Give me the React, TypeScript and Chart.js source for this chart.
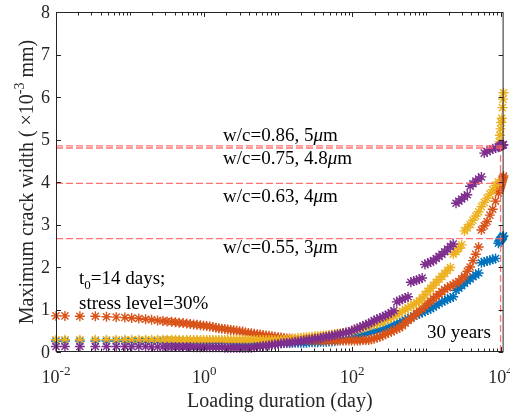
import React, { useEffect, useRef } from "react";
import { Chart, registerables } from "chart.js";

Chart.register(...registerables);

// ---------------- data ----------------
const days = [
  0.01, 0.0132, 0.021, 0.034, 0.048, 0.065, 0.085, 0.105, 0.131, 0.162,
  0.195, 0.235, 0.277, 0.316, 0.363, 0.41, 0.46, 0.52, 0.58, 0.65,
  0.72, 0.8, 0.89, 0.98, 1.08, 1.19, 1.31, 1.44, 1.58, 1.73,
  1.9, 2.08, 2.28, 2.5, 2.74, 3.0, 3.3, 3.6, 3.95, 4.33,
  4.75, 5.2, 5.7, 6.25, 6.85, 7.5, 8.2, 9.0,
  10, 10.9, 11.9, 13, 14.2, 15.5, 16.9, 18.5, 20.2, 22,
  24, 26.2, 28.6, 31.3, 34.1, 37.3, 40.7, 44.4, 48.5, 52.9,
  57.8, 63.1, 68.8, 75.2, 82, 89.6, 97.8, 107, 117, 127,
  139, 152, 166, 181, 197, 215, 235, 257, 280, 306,
  334, 364, 398, 434, 474, 517, 565, 616, 673, 734,
  802, 875, 955, 1043, 1138, 1243, 1357, 1481, 1617, 1765,
  1927, 2104, 2297, 2507, 2737, 2988, 3262, 3561, 3888, 4244,
  4634, 5058, 5522, 6029, 6581, 7185, 7843, 8563, 9348,
  9600, 9800, 10000, 10205, 10400, 10600, 10800, 10950,
];

const blueWidth = [
  0.26, 0.26, 0.26, 0.26, 0.26, 0.26, 0.26, 0.26, 0.26, 0.26,
  0.26, 0.26, 0.26, 0.26, 0.26, 0.26, 0.26, 0.26, 0.26, 0.26,
  0.25, 0.25, 0.25, 0.25, 0.25, 0.25, 0.25, 0.25, 0.25, 0.25,
  0.24, 0.24, 0.23, 0.23, 0.23, 0.22, 0.22, 0.22, 0.21, 0.21,
  0.21, 0.21, 0.21, 0.21, 0.21, 0.21, 0.21, 0.21,
  0.21, 0.21, 0.21, 0.21, 0.21, 0.22, 0.22, 0.22, 0.22, 0.22,
  0.22, 0.23, 0.23, 0.23, 0.23, 0.24, 0.24, 0.24, 0.25, 0.25,
  0.26, 0.27, 0.28, 0.29, 0.3, 0.31, 0.33, 0.35, 0.37, 0.39,
  0.41, 0.43, 0.45, 0.47, 0.48, 0.5, 0.52, 0.54, 0.56, 0.58,
  0.61, 0.64, 0.67, 0.7, 0.72, 0.75, 0.78, 0.81, 0.84, 0.87,
  0.9, 0.93, 0.96, 0.99, 1.02, 1.06, 1.1, 1.14, 1.18, 1.21,
  1.24, 1.27, 1.3, 1.45, 1.5, 1.56, 1.62, 1.67, 1.72, 1.77,
  1.81, 1.86, 2.1, 2.12, 2.14, 2.16, 2.18, 2.2, 2.56,
  2.6, 2.62, 2.64, 2.66, 2.68, 2.7, 2.72, 2.73,
];

const orangeWidth = [
  0.85, 0.85, 0.84, 0.84, 0.83, 0.82, 0.81, 0.8, 0.79, 0.77,
  0.76, 0.74, 0.73, 0.72, 0.71, 0.7, 0.69, 0.68, 0.67, 0.66,
  0.65, 0.64, 0.63, 0.62, 0.61, 0.6, 0.59, 0.57, 0.56, 0.55,
  0.54, 0.53, 0.52, 0.51, 0.5, 0.49, 0.48, 0.46, 0.45, 0.44,
  0.43, 0.42, 0.41, 0.4, 0.39, 0.38, 0.37, 0.36,
  0.35, 0.34, 0.33, 0.32, 0.32, 0.31, 0.3, 0.29, 0.29, 0.28,
  0.28, 0.28, 0.27, 0.27, 0.27, 0.27, 0.27, 0.27, 0.27, 0.27,
  0.27, 0.27, 0.27, 0.27, 0.27, 0.27, 0.27, 0.27, 0.27, 0.27,
  0.28, 0.28, 0.28, 0.3, 0.31, 0.34, 0.36, 0.39, 0.42, 0.45,
  0.48, 0.51, 0.54, 0.57, 0.62, 0.68, 0.74, 0.79, 0.84, 0.91,
  0.97, 1.02, 1.08, 1.14, 1.2, 1.25, 1.31, 1.36, 1.42, 1.47,
  1.51, 1.55, 1.58, 1.62, 1.66, 1.72, 1.79, 1.9, 2.0, 2.15,
  2.3, 2.47, 2.87, 2.97, 3.07, 3.22, 3.36, 3.55, 3.74,
  3.8, 3.85, 3.9, 3.95, 4.0, 4.05, 4.1, 4.14,
];

const yellowWidth = [
  0.29, 0.29, 0.29, 0.29, 0.29, 0.29, 0.29, 0.29, 0.29, 0.29,
  0.29, 0.29, 0.29, 0.29, 0.29, 0.29, 0.28, 0.28, 0.28, 0.28,
  0.28, 0.28, 0.28, 0.28, 0.28, 0.28, 0.28, 0.28, 0.28, 0.28,
  0.28, 0.28, 0.28, 0.28, 0.28, 0.28, 0.28, 0.28, 0.28, 0.28,
  0.28, 0.28, 0.28, 0.28, 0.28, 0.28, 0.28, 0.28,
  0.28, 0.28, 0.29, 0.29, 0.3, 0.31, 0.32, 0.33, 0.33, 0.34,
  0.35, 0.35, 0.36, 0.37, 0.37, 0.38, 0.39, 0.39, 0.4, 0.41,
  0.42, 0.43, 0.44, 0.45, 0.46, 0.47, 0.49, 0.51, 0.53, 0.55,
  0.57, 0.59, 0.61, 0.63, 0.65, 0.67, 0.69, 0.72, 0.75, 0.78,
  0.81, 0.84, 0.88, 0.92, 0.96, 1.0, 1.04, 1.08, 1.12, 1.16,
  1.2, 1.27, 1.35, 1.43, 1.5, 1.57, 1.64, 1.71, 1.78, 1.85,
  1.92, 1.99, 2.3, 2.36, 2.44, 2.52, 2.85, 2.92, 3.0, 3.1,
  3.2, 3.3, 3.42, 3.52, 3.62, 3.72, 3.82, 3.92, 4.0,
  4.95, 5.1, 5.25, 5.4, 5.5, 5.75, 5.95, 6.1,
];

const purpleWidth = [
  0.13, 0.13, 0.13, 0.13, 0.13, 0.13, 0.13, 0.13, 0.13, 0.13,
  0.12, 0.12, 0.12, 0.12, 0.12, 0.12, 0.12, 0.12, 0.12, 0.12,
  0.11, 0.11, 0.11, 0.11, 0.11, 0.11, 0.11, 0.11, 0.11, 0.11,
  0.1, 0.1, 0.1, 0.1, 0.1, 0.1, 0.1, 0.1, 0.1, 0.1,
  0.11, 0.12, 0.13, 0.14, 0.15, 0.16, 0.17, 0.18,
  0.19, 0.2, 0.21, 0.22, 0.22, 0.23, 0.24, 0.25, 0.26, 0.27,
  0.28, 0.29, 0.3, 0.31, 0.32, 0.33, 0.35, 0.36, 0.37, 0.38,
  0.4, 0.41, 0.42, 0.44, 0.46, 0.47, 0.5, 0.53, 0.55, 0.58,
  0.61, 0.64, 0.67, 0.7, 0.74, 0.77, 0.8, 0.83, 0.86, 0.89,
  0.93, 0.97, 1.18, 1.21, 1.24, 1.27, 1.3, 1.64, 1.67, 1.69,
  1.71, 1.74, 2.06, 2.09, 2.12, 2.15, 2.2, 2.25, 2.3, 2.36,
  2.42, 2.48, 2.54, 3.5, 3.55, 3.6, 3.65, 3.7, 3.9, 3.96,
  4.02, 4.07, 4.12, 4.68, 4.72, 4.75, 4.78, 4.8, 4.82,
  4.83, 4.84, 4.85, 4.86, 4.86, 4.87, 4.87, 4.88,
];

const limitLevels = [4.85, 4.8, 3.97, 2.67];
const limitLabels = ["w/c=0.86, 5", "w/c=0.75, 4.8", "w/c=0.63, 4", "w/c=0.55, 3"];
const serviceLifeDay = 10000;
const xTickExps = ["-2", "0", "2", "4"];
const yTickLabels = ["0", "1", "2", "3", "4", "5", "6", "7", "8"];

// ---------------- style ----------------
const FONT = "'Liberation Serif', 'Times New Roman', serif";
const AXIS = "#262626";
const RED = "rgba(255,100,100,0.9)";
const X_MIN = 0.01;
const X_MAX = 11000;

type Part = { t: string; size: number; italic?: boolean; dy?: number };

function drawRich(ctx: CanvasRenderingContext2D, parts: Part[], x: number, y: number, align: "left" | "center") {
  const font = (p: Part) => `${p.italic ? "italic " : ""}${p.size}px ${FONT}`;
  let total = 0;
  const widths = parts.map((p) => {
    ctx.font = font(p);
    const w = ctx.measureText(p.t).width;
    total += w;
    return w;
  });
  let cx = align === "center" ? x - total / 2 : x;
  ctx.textAlign = "left";
  ctx.textBaseline = "alphabetic";
  parts.forEach((p, i) => {
    ctx.font = font(p);
    ctx.fillText(p.t, cx, y + (p.dy || 0));
    cx += widths[i];
  });
}

const decor = {
  id: "decor",
  afterDraw(chart: any) {
    const { ctx, chartArea: a, scales } = chart;
    const xs = scales.x;
    const ys = scales.y;
    ctx.save();

    // box
    ctx.strokeStyle = AXIS;
    ctx.lineWidth = 1;
    const L = a.left + 0.5;
    const R = a.right - 0.5;
    const T = a.top + 0.5;
    const B = a.bottom - 0.5;
    ctx.strokeRect(L, T, R - L, B - T);

    // ticks
    ctx.beginPath();
    yTickLabels.forEach((s) => {
      const p = Math.round(ys.getPixelForValue(Number(s))) + 0.5;
      ctx.moveTo(L, p);
      ctx.lineTo(L + 4.5, p);
      ctx.moveTo(R, p);
      ctx.lineTo(R - 4.5, p);
    });
    for (let k = -2; k <= 4; k++) {
      for (let m = 1; m <= 9; m++) {
        const v = m * Math.pow(10, k);
        if (v > X_MAX) break;
        const major = m === 1 && xTickExps.includes(String(k));
        const len = major ? 4.5 : 3;
        const p = Math.round(xs.getPixelForValue(v)) + 0.5;
        ctx.moveTo(p, B);
        ctx.lineTo(p, B - len);
        ctx.moveTo(p, T);
        ctx.lineTo(p, T + len);
      }
    }
    ctx.stroke();

    ctx.fillStyle = AXIS;
    // y tick labels
    ctx.font = `18px ${FONT}`;
    ctx.textAlign = "right";
    ctx.textBaseline = "middle";
    yTickLabels.forEach((s) => {
      ctx.fillText(s, a.left - 6, ys.getPixelForValue(Number(s)) + 1);
    });
    // x tick labels
    xTickExps.forEach((e) => {
      const p = xs.getPixelForValue(Math.pow(10, Number(e)));
      drawRich(ctx, [
        { t: "10", size: 18 },
        { t: e, size: 13, dy: -8 },
      ], p, a.bottom + 31, "center");
    });

    // axis titles
    drawRich(ctx, [{ t: "Loading duration (day)", size: 20 }], (a.left + a.right) / 2, 406.5, "center");
    ctx.save();
    ctx.translate(33, (a.top + a.bottom) / 2);
    ctx.rotate(-Math.PI / 2);
    drawRich(ctx, [
      { t: "Maximum crack width ( \u00d710", size: 20 },
      { t: "-3", size: 14, dy: -9 },
      { t: " mm)", size: 20 },
    ], 0, 0, "center");
    ctx.restore();

    // annotations
    ctx.fillStyle = "#000";
    const labelBase = [141, 163.5, 201.5, 253];
    limitLabels.forEach((s, i) => {
      drawRich(ctx, [
        { t: s, size: 19 },
        { t: "\u03bc", size: 19, italic: true },
        { t: "m", size: 19 },
      ], 223, labelBase[i], "left");
    });
    drawRich(ctx, [
      { t: "t", size: 19 },
      { t: "0", size: 13, dy: 5 },
      { t: "=14 days;", size: 19 },
    ], 79, 284, "left");
    drawRich(ctx, [{ t: "stress level=30%", size: 19 }], 79, 308.5, "left");
    drawRich(ctx, [{ t: "30 years", size: 19 }], 427, 338, "left");

    ctx.restore();
  },
};

const seriesStyle = (color: string) => ({
  type: "scatter" as const,
  pointStyle: "star" as const,
  pointRadius: 5,
  pointHoverRadius: 5,
  borderWidth: 1.4,
  borderColor: color,
  backgroundColor: color,
  showLine: false,
  clip: false as any,
});

export default function App() {
  const ref = useRef<HTMLCanvasElement>(null);

  useEffect(() => {
    if (!ref.current) return;
    const toPoints = (vals: number[]) => days.map((d, i) => ({ x: d, y: vals[i] }));
    const dashed = (pts: { x: number; y: number }[]) => ({
      type: "line" as const,
      data: pts,
      borderColor: RED,
      borderWidth: 1.3,
      borderDash: [7, 3],
      pointRadius: 0,
      showLine: true,
      fill: false,
    });

    const chart = new Chart(ref.current, {
      type: "scatter",
      data: {
        datasets: [
          ...limitLevels.map((v) => dashed([{ x: X_MIN, y: v }, { x: X_MAX, y: v }])),
          dashed([{ x: serviceLifeDay, y: 0 }, { x: serviceLifeDay, y: limitLevels[0] }]),
          { ...seriesStyle("#7E2F8E"), data: toPoints(purpleWidth) },
          { ...seriesStyle("#EDB120"), data: toPoints(yellowWidth) },
          { ...seriesStyle("#D95319"), data: toPoints(orangeWidth) },
          { ...seriesStyle("#0072BD"), data: toPoints(blueWidth) },
        ] as any,
      },
      options: {
        animation: false,
        responsive: false,
        devicePixelRatio: 1,
        events: [],
        layout: { padding: { left: 56, top: 12, right: 5, bottom: 65 } },
        plugins: { legend: { display: false }, tooltip: { enabled: false } },
        scales: {
          x: { type: "logarithmic", min: X_MIN, max: X_MAX, display: false },
          y: { type: "linear", min: 0, max: 8, display: false },
        },
      },
      plugins: [decor],
    });
    return () => chart.destroy();
  }, []);

  return (
    <canvas
      ref={ref}
      width={510}
      height={417}
      style={{ position: "absolute", left: 0, top: 0, width: 510, height: 417, background: "#fff" }}
    />
  );
}
